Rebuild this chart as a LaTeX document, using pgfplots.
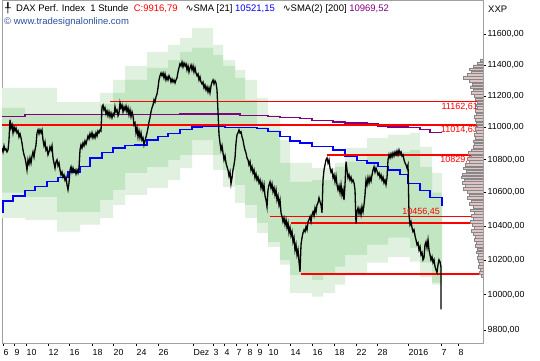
\documentclass[border=0pt]{standalone}
\usepackage{pgfplots}
\pgfplotsset{compat=1.18}
\usepackage{fontspec}
\setmainfont{Liberation Sans}
\newfontfamily\dejavu{DejaVu Sans}
\definecolor{lgreen}{RGB}{224,241,224}
\definecolor{dgreen}{RGB}{193,230,193}
\definecolor{smablue}{RGB}{0,0,255}
\definecolor{smapurple}{RGB}{128,0,128}
\definecolor{vpfill}{RGB}{222,196,196}
\definecolor{vpdraw}{RGB}{135,135,135}
\definecolor{urlblue}{RGB}{40,80,160}
\definecolor{framegray}{RGB}{160,160,160}
\definecolor{lvlred}{RGB}{255,0,0}
\begin{document}
\begin{tikzpicture}[x=1bp,y=1bp]
\useasboundingbox (0,0) rectangle (540,360);
\begin{axis}[at={(2bp,17bp)}, anchor=south west, scale only axis,
  width=481bp, height=343bp,
  y coord trafo/.code={\pgfmathparse{1000*ln(#1/9728)}},
  y coord inv trafo/.code={\pgfmathparse{9728*exp(#1/1000)}},
  ymin=9728, ymax=11829,
  xmin=2, xmax=483,
  axis line style={framegray, line width=0.8bp},
  ytick pos=right, xtick pos=bottom, tick align=outside,
  major tick length=3bp, tick style={black, line width=0.5bp},
  ytick={9800,10000,10200,10400,10600,10800,11000,11200,11400,11600},
  yticklabels={{9800,00},{10000,00},{10200,00},{10400,00},{10600,00},{10800,00},{11000,00},{11200,00},{11400,00},{11600,00}},
  xtick={3,14,26,48,69,92,113,136,158,193,213,224,236,247,257,268,290,312,334,356,377,408,441,458},
  xticklabels={6,9,10,12,16,18,20,24,26,Dez,3,4,7,8,9,10,14,16,18,22,28,2016,7,8},
  xticklabel style={anchor=north west, inner sep=0.5bp, yshift=-2.5bp},
  yticklabel style={anchor=west, inner sep=1.5bp},
  every tick label/.append style={font=\fontsize{8.8bp}{10bp}\selectfont, text=black}]
% light band
\addplot[fill=lgreen, draw=none] coordinates {
(2,11251)(57,11251)(57,11161)(100,11161)(100,11219)(113,11219)(113,11302)(125,11302)(125,11393)(147,11393)
(147,11484)(168,11484)(168,11530)(180,11530)(180,11575)(192,11575)(192,11641)(213,11641)(213,11530)(223,11530)
(223,11431)(235,11431)(235,11367)(245,11367)(245,11302)(257,11302)(257,11187)(268,11187)(268,11080)(280,11080)
(280,10922)(290,10922)(290,10780)(312,10780)(312,10749)(335,10749)(335,10780)(345,10780)(345,10872)(367,10872)
(367,10935)(388,10935)(388,10954)(410,10954)(410,10966)(420,10966)(420,10879)(432,10879)(432,10719)(442,10719)
(442,10057)(432,10057)(432,10102)(420,10102)(420,10189)(410,10189)(410,10218)(388,10218)(388,10184)(367,10184)
(367,10114)(345,10114)(345,10057)(335,10057)(335,10011)(323,10011)(323,9988)(312,9988)(312,10011)(290,10011)
(290,10172)(280,10172)(280,10277)(268,10277)(268,10359)(257,10359)(257,10448)(245,10448)(245,10537)(235,10537)
(235,10634)(223,10634)(223,10737)(213,10737)(213,10830)(192,10830)(192,10749)(180,10749)(180,10676)(168,10676)
(168,10628)(147,10628)(147,10585)(125,10585)(125,10525)(113,10525)(113,10448)(100,10448)(100,10407)(80,10407)
(80,10365)(57,10365)(57,10436)(25,10436)(25,10448)(2,10448)} -- cycle;
% dark band
\addplot[fill=dgreen, draw=none] coordinates {
(2,11124)(25,11124)(25,11086)(57,11086)(57,11080)(100,11080)(100,11149)(113,11149)(113,11219)(125,11219)
(125,11302)(147,11302)(147,11380)(168,11380)(168,11431)(180,11431)(180,11484)(192,11484)(192,11510)(213,11510)
(213,11464)(223,11464)(223,11393)(235,11393)(235,11315)(245,11315)(245,11174)(257,11174)(257,11004)(268,11004)
(268,10985)(280,10985)(280,10780)(290,10780)(290,10664)(312,10664)(312,10676)(335,10676)(335,10756)(345,10756)
(345,10787)(367,10787)(367,10830)(388,10830)(388,10848)(410,10848)(410,10860)(420,10860)(420,10756)(432,10756)
(432,10598)(442,10598)
(442,10068)(432,10068)(432,10184)(420,10184)(420,10271)(410,10271)(410,10330)(388,10330)(388,10289)(367,10289)
(367,10230)(345,10230)(345,10160)(335,10160)(335,10114)(323,10114)(323,10085)(312,10085)(312,10114)(290,10114)
(290,10201)(280,10201)(280,10306)(268,10306)(268,10418)(257,10418)(257,10525)(245,10525)(245,10646)(235,10646)
(235,10737)(223,10737)(223,10830)(213,10830)(213,10922)(192,10922)(192,10830)(180,10830)(180,10799)(168,10799)
(168,10756)(147,10756)(147,10719)(125,10719)(125,10616)(113,10616)(113,10555)(100,10555)(100,10483)(57,10483)
(57,10573)(25,10573)(25,10598)(2,10598)} -- cycle;
% SMA 200
\addplot[smapurple, line width=1.2bp, const plot] coordinates {
(2,11067)(25,11080)(180,11086)(240,11073)(268,11067)(280,11061)(300,11054)(312,11042)(333,11035)(345,11029)
(367,11023)(378,11010)(388,11004)(408,10998)(420,10985)(430,10969.52)(442,10969.52)};
% SMA 21
\addplot[smablue, line width=1.2bp, const plot] coordinates {
(2,10478)(3,10549)(13,10579)(25,10610)(35,10634)(47,10664)(58,10694)(68,10725)(80,10756)(90,10811)
(102,10842)(113,10872)(125,10885)(135,10891)(147,10922)(158,10941)(168,10960)(180,10985)(192,11004)(202,11010)
(225,10998)(257,10991)(268,10972)(280,10941)(290,10916)(300,10903)(312,10879)(333,10860)(345,10823)(357,10793)
(367,10780)(378,10756)(388,10737)(400,10707)(408,10652)(420,10610)(430,10567)(442,10567)(442,10521.15)};
% horizontal levels
\addplot[draw=lvlred, line width=1.6bp] coordinates {(110,11162.61)(483,11162.61)};
\addplot[draw=lvlred, line width=1.6bp] coordinates {(2,11014.63)(483,11014.63)};
\addplot[draw=lvlred, line width=1.6bp] coordinates {(327,10829.62)(483,10829.62)};
\addplot[draw=lvlred, line width=1.6bp] coordinates {(270,10456.45)(483,10456.45)};
\addplot[draw=lvlred, line width=1.6bp] coordinates {(291,10418)(483,10418)};
\addplot[draw=lvlred, line width=1.6bp] coordinates {(301,10120)(483,10120)};
% price
\addplot[black, line width=1.3bp] coordinates {
(2,10872)(3,10848)(4,10885)(5,10860)(6,10866)(7,10848)(8,10860)(9,10922)(10,11048)(11,10998)
(12,11017)(13,10966)(14,11004)(15,10979)(16,10998)(17,10966)(18,10979)(19,10941)(20,10960)(21,10935)
(22,10903)(23,10860)(24,10830)(25,10811)(26,10780)(27,10737)(28,10799)(29,10774)(30,10811)(31,10780)
(32,10823)(33,10848)(34,10817)(35,10860)(36,10891)(37,10966)(38,10985)(39,10960)(40,10985)(41,10966)
(42,10985)(43,10922)(44,10885)(45,10910)(46,10860)(47,10872)(48,10830)(49,10848)(50,10879)(51,10860)
(52,10885)(53,10811)(54,10780)(55,10749)(56,10787)(57,10799)(58,10762)(59,10780)(60,10737)(61,10707)
(62,10725)(63,10694)(64,10707)(65,10676)(66,10694)(67,10646)(68,10616)(69,10658)(70,10737)(71,10756)
(72,10725)(73,10749)(74,10725)(75,10737)(76,10713)(77,10737)(78,10719)(79,10749)(80,10860)(81,10891)
(82,10872)(83,10903)(84,10885)(85,10916)(86,10897)(87,10922)(88,10947)(89,10928)(90,10960)(91,10941)
(92,10966)(93,10935)(94,10954)(95,10935)(96,10966)(97,10947)(98,10979)(99,10966)(100,10985)(101,10979)
(102,11130)(103,11142)(104,11111)(105,11124)(106,11086)(107,11105)(108,11073)(109,11098)(110,11067)(111,11092)
(112,11061)(113,11086)(114,11073)(115,11130)(116,11098)(117,11111)(118,11073)(119,11092)(120,11155)(121,11124)
(122,11142)(123,11098)(124,11130)(125,11111)(126,11136)(127,11098)(128,11124)(129,11080)(130,11111)(131,11067)
(132,11098)(133,11073)(134,11017)(135,11029)(136,10966)(137,10998)(138,10941)(139,10979)(140,10935)(141,10966)
(142,10922)(143,10935)(144,10891)(145,10916)(146,10941)(147,10966)(148,10998)(149,11035)(150,11061)(151,11098)
(152,11124)(153,11142)(154,11174)(155,11161)(156,11193)(157,11212)(158,11251)(159,11302)(160,11328)(161,11347)
(162,11328)(163,11347)(164,11315)(165,11341)(166,11302)(167,11321)(168,11302)(169,11328)(170,11315)(171,11289)
(172,11308)(173,11289)(174,11302)(175,11283)(176,11302)(177,11315)(178,11354)(179,11380)(180,11405)(181,11393)
(182,11418)(183,11386)(184,11412)(185,11393)(186,11405)(187,11367)(188,11393)(189,11354)(190,11380)(191,11399)
(192,11367)(193,11393)(194,11354)(195,11380)(196,11347)(197,11328)(198,11341)(199,11302)(200,11321)(201,11289)
(202,11276)(203,11289)(204,11251)(205,11270)(206,11238)(207,11257)(208,11225)(209,11251)(210,11219)(211,11264)
(212,11289)(213,11302)(214,11276)(215,11296)(216,11283)(217,11238)(218,11098)(219,10954)(220,10903)(221,10860)
(222,10885)(223,10842)(224,10799)(225,10823)(226,10780)(227,10756)(228,10737)(229,10700)(230,10725)(231,10652)
(232,10688)(233,10737)(234,10768)(235,10811)(236,10903)(237,10954)(238,10966)(239,10985)(240,10966)(241,10972)
(242,10941)(243,10922)(244,10885)(245,10860)(246,10842)(247,10811)(248,10799)(249,10768)(250,10787)(251,10737)
(252,10756)(253,10719)(254,10737)(255,10688)(256,10713)(257,10676)(258,10694)(259,10658)(260,10676)(261,10628)
(262,10658)(263,10616)(264,10646)(265,10579)(266,10555)(267,10513)(268,10616)(269,10646)(270,10664)(271,10628)
(272,10652)(273,10604)(274,10628)(275,10585)(276,10616)(277,10555)(278,10579)(279,10525)(280,10555)(281,10478)
(282,10454)(283,10424)(284,10448)(285,10407)(286,10436)(287,10389)(288,10418)(289,10359)(290,10389)(291,10342)
(292,10365)(293,10306)(294,10330)(295,10259)(296,10289)(297,10230)(298,10259)(299,10189)(300,10131)(301,10289)
(302,10330)(303,10359)(304,10377)(305,10365)(306,10395)(307,10377)(308,10424)(309,10436)(310,10454)(311,10424)
(312,10466)(313,10483)(314,10460)(315,10507)(316,10483)(317,10525)(318,10537)(319,10567)(320,10543)(321,10525)
(322,10478)(323,10676)(324,10737)(325,10768)(326,10799)(327,10811)(328,10780)(329,10799)(330,10749)(331,10725)
(332,10737)(333,10688)(334,10707)(335,10664)(336,10700)(337,10646)(338,10616)(339,10640)(340,10598)(341,10646)
(342,10585)(343,10616)(344,10555)(345,10646)(346,10787)(347,10737)(348,10688)(349,10707)(350,10676)(351,10694)
(352,10664)(353,10676)(354,10658)(355,10616)(356,10413)(357,10483)(358,10507)(359,10472)(360,10501)(361,10466)
(362,10513)(363,10483)(364,10525)(365,10585)(366,10676)(367,10646)(368,10688)(369,10658)(370,10694)(371,10670)
(372,10707)(373,10737)(374,10756)(375,10725)(376,10749)(377,10731)(378,10707)(379,10719)(380,10688)(381,10707)
(382,10676)(383,10694)(384,10658)(385,10676)(386,10646)(387,10688)(388,10799)(389,10830)(390,10811)(391,10836)
(392,10817)(393,10842)(394,10823)(395,10848)(396,10830)(397,10854)(398,10830)(399,10860)(400,10836)(401,10848)
(402,10823)(403,10830)(404,10799)(405,10780)(406,10768)(407,10749)(408,10768)(409,10466)(410,10407)(411,10424)
(412,10389)(413,10365)(414,10377)(415,10342)(416,10318)(417,10289)(418,10300)(419,10259)(420,10277)(421,10230)
(422,10242)(423,10201)(424,10213)(425,10289)(426,10306)(427,10271)(428,10318)(429,10259)(430,10230)(431,10201)
(432,10218)(433,10184)(434,10201)(435,10160)(436,10143)(437,10126)(438,10172)(439,10201)(440,10189)(441,10155)
(441,9916.79)};
\node[anchor=north east, text=lvlred, inner sep=1bp, font=\fontsize{9bp}{10bp}\selectfont] at (axis cs:479,11162.61) {11162,61};
\node[anchor=north east, text=lvlred, inner sep=1bp, font=\fontsize{9bp}{10bp}\selectfont] at (axis cs:479,11014.63) {11014,63};
\node[anchor=north east, text=lvlred, inner sep=1bp, font=\fontsize{9bp}{10bp}\selectfont] at (axis cs:479,10829.62) {10829,62};
\node[anchor=south east, text=lvlred, inner sep=1bp, font=\fontsize{9bp}{10bp}\selectfont] at (axis cs:441,10456.45) {10456,45};
\end{axis}
% volume profile (on top, anchored at right edge)
\begin{axis}[at={(2bp,17bp)}, anchor=south west, scale only axis,
  width=481bp, height=343bp,
  y coord trafo/.code={\pgfmathparse{1000*ln(#1/9728)}},
  y coord inv trafo/.code={\pgfmathparse{9728*exp(#1/1000)}},
  ymin=9728, ymax=11829,
  hide axis, x dir=reverse, xmin=0, xmax=481, xbar, bar width=2.4bp]
\addplot[fill=vpfill, draw=vpdraw, line width=0.4bp] coordinates {
(3,11431)(6,11412)(10,11393)(14,11373)(12,11354)(16,11334)(20,11315)(14,11296)(11,11276)(13,11257)
(10,11238)(12,11219)(9,11200)(8,11180)(6,11161)(7,11142)(6,11124)(8,11105)(7,11086)(9,11067)
(8,11048)(7,11029)(6,11010)(8,10991)(7,10972)(9,10954)(8,10935)(10,10916)(9,10897)(10,10879)
(12,10860)(15,10842)(12,10823)(16,10805)(14,10787)(18,10768)(20,10749)(17,10731)(21,10713)(22,10694)
(19,10676)(21,10658)(18,10640)(20,10622)(16,10604)(14,10585)(16,10567)(12,10549)(14,10531)(10,10513)
(13,10495)(9,10478)(12,10460)(10,10442)(13,10424)(11,10407)(9,10389)(12,10371)(10,10353)(8,10336)
(9,10318)(7,10300)(8,10283)(6,10265)(7,10247)(5,10230)(6,10213)(5,10195)(4,10178)(5,10160)
(3,10143)(4,10126)(2,10108)};
\end{axis}
\node[anchor=west, inner sep=0pt, font=\fontsize{9.5bp}{11bp}\selectfont] at (5,352)
  {{\dejavu ╀}\ \ DAX Perf. Index\ \ 1 Stunde\ \ \textcolor{lvlred}{C:9916,79}\ \ \ {\dejavu ∿}SMA [21] \textcolor{smablue}{10521,15}\ \ \ {\dejavu ∿}SMA(2) [200] \textcolor{smapurple}{10969,52}};
\node[anchor=west, inner sep=0pt, font=\fontsize{9.5bp}{11bp}\selectfont, text=urlblue] at (4,338) {© www.tradesignalonline.com};
\node[anchor=west, inner sep=0pt, font=\fontsize{9.5bp}{11bp}\selectfont] at (488,351) {XXP};
\end{tikzpicture}
\end{document}
